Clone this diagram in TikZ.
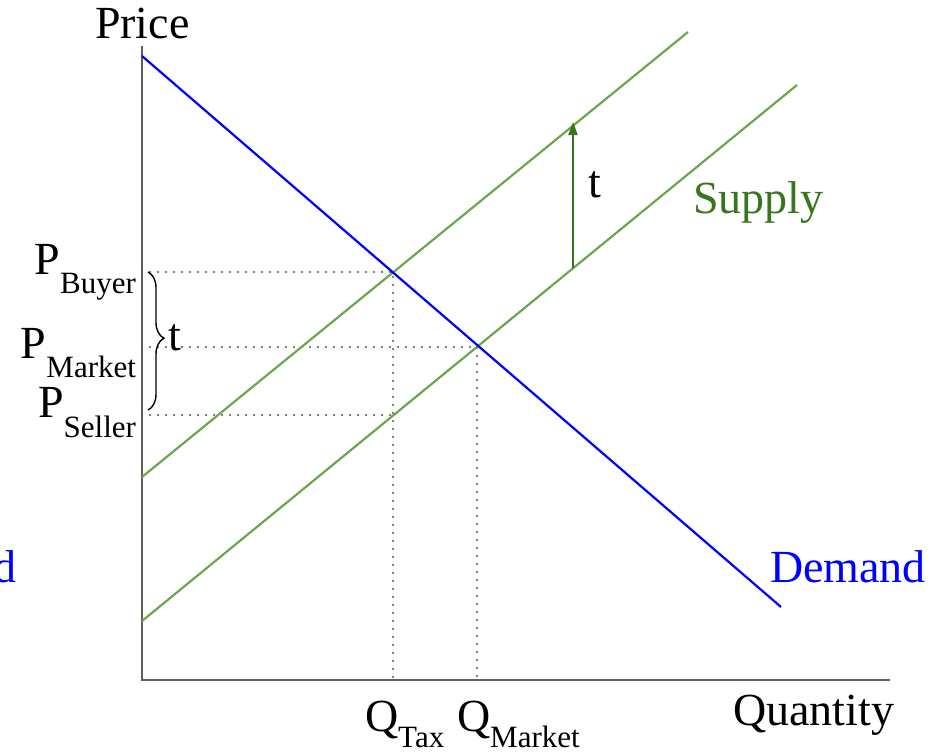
\documentclass[tikz,border=0pt]{standalone}
\usepackage{fontspec}
\setmainfont{Liberation Serif}
\usetikzlibrary{arrows.meta,decorations.pathreplacing}
\definecolor{lgreen}{RGB}{106,168,79}
\definecolor{dgreen}{RGB}{56,118,29}
\definecolor{axisgray}{RGB}{95,95,95}
\definecolor{dotgray}{RGB}{85,85,85}
\newcommand\bigtxt{\fontsize{46}{50}\selectfont}
\newcommand\subtxt[2]{\raisebox{-#1pt}{\fontsize{31}{34}\selectfont #2}}
\tikzset{
  lbl/.style={inner sep=0pt,outer sep=0pt,font=\bigtxt},
  axisline/.style={draw=axisgray,line width=2.2pt},
  supplyline/.style={draw=lgreen,line width=2.2pt},
  demandline/.style={draw=blue,line width=2.2pt},
  guide/.style={draw=dotgray,line width=2.3pt,line cap=round,dash pattern=on 0pt off 8pt},
}
\begin{document}
\begin{tikzpicture}[x=1pt,y=-1pt]
\useasboundingbox (0,0) rectangle (933,753);
% axes
\coordinate (top) at (142,46);
\coordinate (origin) at (142,680);
\coordinate (xend) at (890,680);
\draw[axisline] (top) -- (origin) -- (xend);
% curves
\coordinate (d1) at (142,56);
\coordinate (d2) at (781,607);
\coordinate (su1) at (142,477);
\coordinate (su2) at (688,32);
\coordinate (sl1) at (142,621);
\coordinate (sl2) at (797,85);
% key points
\coordinate (eqT) at (393,272);
\coordinate (eqM) at (477,347);
\coordinate (sel) at (393,415);
\coordinate (pB) at (142,272);
\coordinate (pM) at (142,347);
\coordinate (pS) at (142,415);
\coordinate (qT) at (393,680);
\coordinate (qM) at (477,680);
% guides
\draw[guide] (pB) -- (eqT) -- (qT);
\draw[guide] (pM) -- (eqM) -- (qM);
\draw[guide] (pS) -- (sel);
% lines
\draw[supplyline] (su1) -- (su2);
\draw[supplyline] (sl1) -- (sl2);
\draw[demandline] (d1) -- (d2);
% tax arrow
\coordinate (a1) at (573,268);
\coordinate (a2) at (573,122);
\draw[dgreen,line width=2.2pt,-{Triangle[length=13pt,width=9pt]}] (a1) -- (a2);
% brace
\coordinate (b1) at (148,272);
\coordinate (b2) at (148,410);
\draw[line width=1.4pt,decorate,decoration={brace,amplitude=16pt,aspect=0.48}] (b1) -- (b2);
% labels
\node[lbl,anchor=base west] (price) at (95,38) {Price};
\node[lbl,anchor=base west] (qty) at (733,725) {Quantity};
\node[lbl,anchor=base west,text=dgreen] (supply) at (693,213) {Supply};
\node[lbl,anchor=base west,text=blue] (demand) at (770,582) {Demand};
\node[lbl,anchor=base west,text=blue] (dcut) at (-6,582) {d};
\node[lbl,anchor=base west] (tarrow) at (588,197) {t};
\node[lbl,anchor=base west] (tbrace) at (168,350) {t};
\node[lbl,anchor=base east] (lpB) at (136,274) {P\subtxt{19}{Buyer}};
\node[lbl,anchor=base east] (lpM) at (136,358) {P\subtxt{19}{Market}};
\node[lbl,anchor=base east] (lpS) at (136,417) {P\subtxt{20}{Seller}};
\node[lbl,anchor=base west] (lqT) at (365,731) {Q\subtxt{16}{Tax}};
\node[lbl,anchor=base west] (lqM) at (457,731) {Q\subtxt{16}{Market}};
\end{tikzpicture}
\end{document}
